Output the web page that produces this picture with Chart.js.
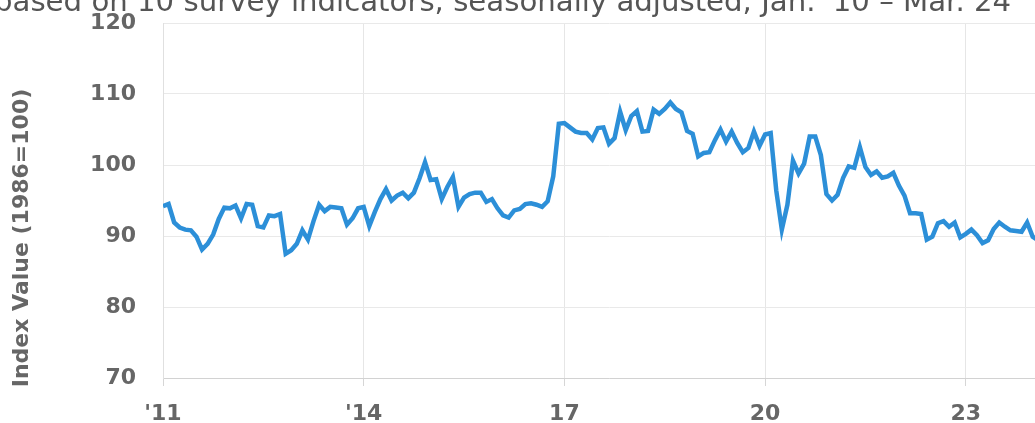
<!DOCTYPE html>
<html>
<head>
<meta charset="utf-8">
<script src="https://cdn.jsdelivr.net/npm/chart.js@4"></script>
<style>
  html, body { margin: 0; padding: 0; background: #fff; overflow: hidden; }
  #wrap { position: relative; width: 1035px; height: 423px; overflow: hidden; }
  canvas { display: block; }
</style>
</head>
<body>
<div id="wrap"><canvas id="optimism" width="1080" height="423"></canvas></div>
<script>
// monthly index values (Jan '11 onwards)
const y2011 = [94.2, 94.5, 91.9, 91.2, 90.9, 90.8, 89.9, 88.1, 88.9, 90.2, 92.4, 94.0];
const y2012 = [93.9, 94.3, 92.5, 94.5, 94.4, 91.4, 91.2, 92.9, 92.8, 93.1, 87.5, 88.0];
const y2013 = [88.9, 90.8, 89.5, 92.1, 94.4, 93.5, 94.1, 94.0, 93.9, 91.6, 92.5, 93.9];
const y2014 = [94.1, 91.4, 93.4, 95.2, 96.6, 95.0, 95.7, 96.1, 95.3, 96.1, 98.1, 100.4];
const y2015 = [97.9, 98.0, 95.2, 96.9, 98.3, 94.1, 95.4, 95.9, 96.1, 96.1, 94.8, 95.2];
const y2016 = [93.9, 92.9, 92.6, 93.6, 93.8, 94.5, 94.6, 94.4, 94.1, 94.9, 98.4, 105.8];
const y2017 = [105.9, 105.3, 104.7, 104.5, 104.5, 103.6, 105.2, 105.3, 103.0, 103.8, 107.5, 104.9];
const y2018 = [106.9, 107.6, 104.7, 104.8, 107.8, 107.2, 107.9, 108.8, 107.9, 107.4, 104.8, 104.4];
const y2019 = [101.2, 101.7, 101.8, 103.5, 105.0, 103.3, 104.7, 103.1, 101.8, 102.4, 104.7, 102.7];
const y2020 = [104.3, 104.5, 96.4, 90.9, 94.4, 100.6, 98.8, 100.2, 104.0, 104.0, 101.4, 95.9];
const y2021 = [95.0, 95.8, 98.2, 99.8, 99.6, 102.5, 99.7, 98.6, 99.1, 98.2, 98.4, 98.9];
const y2022 = [97.1, 95.7, 93.2, 93.2, 93.1, 89.5, 89.9, 91.8, 92.1, 91.3, 91.9, 89.8];
const y2023 = [90.3, 90.9, 90.1, 89.0, 89.4, 91.0, 91.9, 91.3, 90.8, 90.7, 90.6, 91.9];
const y2024 = [89.9, 89.4, 88.5];

// x ticks sit on January of these years (months counted from Jan '11)
const tickMonths = [0, 36, 72, 108, 144];
const tickLabels = ["'11", "'14", "17", "20", "23"];
const yTicks = [70, 80, 90, 100, 110, 120];

const subtitle = "based on 10 survey indicators, seasonally adjusted, Jan. '10 \u2013 Mar. 24";
const yTitle = "Index Value (1986=100)";

const values = [].concat(y2011, y2012, y2013, y2014, y2015, y2016, y2017,
                         y2018, y2019, y2020, y2021, y2022, y2023, y2024);
const points = values.map((v, i) => ({ x: i, y: v }));

const FONT = "'DejaVu Sans', sans-serif";
const GREY = '#666';

// subtitle (cropped at the top) and the rotated y title
const extraText = {
    id: 'extraText',
    afterDraw(chart) {
        const c = chart.ctx;
        c.save();
        c.fillStyle = '#555';
        c.font = '28px ' + FONT;
        // stretch the cut-off subtitle across the same width as the original
        const w = c.measureText(subtitle).width;
        const size = 28 * 1018 / w;
        c.font = size.toFixed(1) + 'px ' + FONT;
        c.textBaseline = 'alphabetic';
        c.textAlign = 'left';
        c.fillText(subtitle, -6, 11);

        c.fillStyle = GREY;
        c.font = 'bold 22px ' + FONT;
        c.translate(22, 238);
        c.rotate(-Math.PI / 2);
        c.textAlign = 'center';
        c.textBaseline = 'middle';
        c.fillText(yTitle, 0, 0);
        c.restore();
    }
};

new Chart(document.getElementById('optimism'), {
    type: 'line',
    data: {
        datasets: [{
            data: points,
            borderColor: '#2c8fd8',
            borderWidth: 4.5,
            pointRadius: 0,
            fill: false,
            tension: 0
        }]
    },
    options: {
        responsive: false,
        animation: false,
        layout: { padding: { top: 23, right: 25, left: 0, bottom: 0 } },
        plugins: { legend: { display: false }, tooltip: { enabled: false } },
        scales: {
            x: {
                type: 'linear',
                min: 0,
                max: 160,
                afterFit: s => {
                    s.height = 45;
                    s.paddingLeft = 0; s.paddingRight = 0;
                    s.paddingTop = 0; s.paddingBottom = 0;
                },
                afterBuildTicks: s => { s.ticks = tickMonths.map(v => ({ value: v })); },
                ticks: {
                    color: GREY,
                    font: { family: FONT, size: 22, weight: 'bold' },
                    padding: 15,
                    maxRotation: 0,
                    callback: v => tickLabels[tickMonths.indexOf(v)]
                },
                grid: { color: '#e6e6e6', tickColor: '#d6d6d6', tickLength: 8, lineWidth: 1 },
                border: { color: '#d2d2d2' }
            },
            y: {
                min: 70,
                max: 120,
                afterFit: s => {
                    s.width = 163;
                    s.paddingLeft = 0; s.paddingRight = 0;
                    s.paddingTop = 0; s.paddingBottom = 0;
                },
                afterBuildTicks: s => { s.ticks = yTicks.map(v => ({ value: v })); },
                ticks: {
                    color: GREY,
                    font: { family: FONT, size: 22, weight: 'bold' },
                    padding: 27
                },
                grid: { color: '#e9e9e9', drawTicks: false },
                border: { color: '#e0e0e0' }
            }
        }
    },
    plugins: [extraText]
});
</script>
</body>
</html>
